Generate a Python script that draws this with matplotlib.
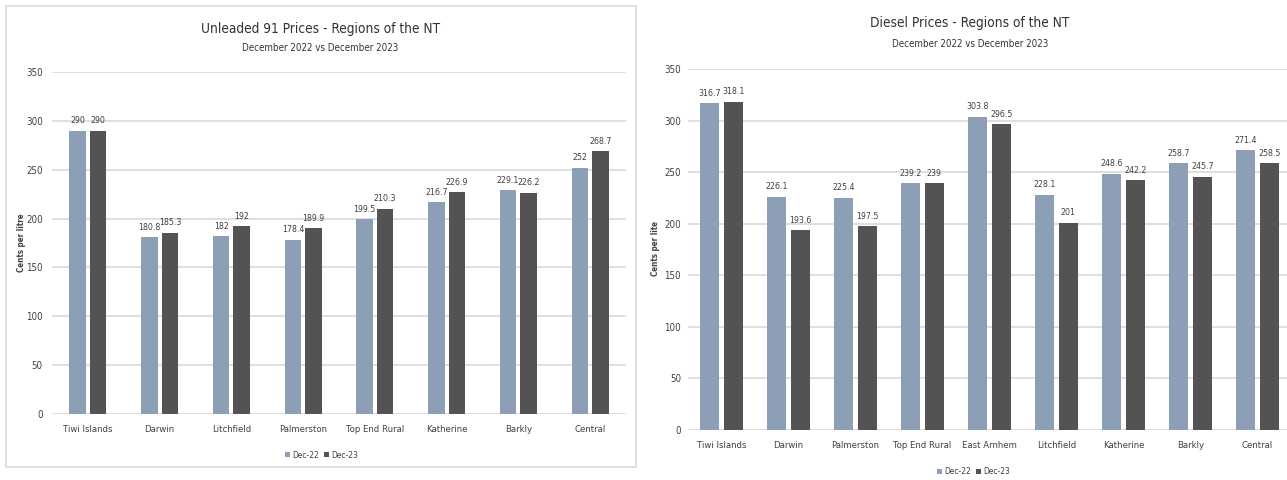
import matplotlib
matplotlib.use('Agg')
import matplotlib.pyplot as plt
import numpy as np
from matplotlib.patches import Rectangle

plt.rcParams['font.family'] = ['DejaVu Sans']
plt.rcParams['font.stretch'] = 'condensed'

# unleaded 91
ulp_regions = ['Tiwi Islands', 'Darwin', 'Litchfield', 'Palmerston',
               'Top End Rural', 'Katherine', 'Barkly', 'Central']
ulp_dec22 = [290, 180.8, 182, 178.4, 199.5, 216.7, 229.1, 252]
ulp_dec23 = [290, 185.3, 192, 189.9, 210.3, 226.9, 226.2, 268.7]

# diesel
dsl_regions = ['Tiwi Islands', 'Darwin', 'Palmerston', 'Top End Rural',
               'East Arnhem', 'Litchfield', 'Katherine', 'Barkly', 'Central']
dsl_dec22 = [316.7, 226.1, 225.4, 239.2, 303.8, 228.1, 248.6, 258.7, 271.4]
dsl_dec23 = [318.1, 193.6, 197.5, 239, 296.5, 201, 242.2, 245.7, 258.5]

series_names = ['Dec-22', 'Dec-23']
yticks = [0, 50, 100, 150, 200, 250, 300, 350]

c22 = '#8c9fb7'
c23 = '#535353'
txt = '#404040'

fig = plt.figure(figsize=(12.87, 4.8), dpi=100)

# light frame round the left chart
fig.patches.append(Rectangle((6 / 1287, 1 - 467 / 480), 630 / 1287, 461 / 480,
                             transform=fig.transFigure, fill=False,
                             edgecolor='#d5dce4', lw=1.2))


def fmt(v):
    return ('%g' % v)


def draw(ax, regions, d22, d23, width, off, ypad):
    x = np.arange(len(regions))
    b1 = ax.bar(x - off, d22, width, color=c22, label=series_names[0], zorder=3)
    b2 = ax.bar(x + off, d23, width, color=c23, label=series_names[1], zorder=3)
    for bars, vals in ((b1, d22), (b2, d23)):
        for r, v in zip(bars, vals):
            ax.annotate(fmt(v), (r.get_x() + r.get_width() / 2, v),
                        xytext=(0, 4), textcoords='offset points',
                        ha='center', va='bottom', fontsize=6.3, color=txt)
    ax.set_xlim(-0.5, len(regions) - 0.5)
    ax.set_ylim(0, 350)
    ax.set_yticks(yticks)
    ax.set_xticks(x)
    ax.set_xticklabels(regions)
    ax.tick_params(length=0, labelsize=7, colors=txt)
    ax.tick_params(axis='x', pad=8, labelsize=6.8)
    ax.tick_params(axis='y', pad=ypad)
    for s in ax.spines.values():
        s.set_visible(False)
    ax.grid(axis='y', color='#dcdcdc', lw=1.3, zorder=0)
    ax.set_axisbelow(True)
    return b1, b2


ax1 = fig.add_axes([52 / 1287, 1 - 414 / 480, 574 / 1287, 342 / 480])
h1 = draw(ax1, ulp_regions, ulp_dec22, ulp_dec23, 0.228, 0.143, 6.5)
ax2 = fig.add_axes([688 / 1287, 1 - 430 / 480, 603 / 1287, 361 / 480])
h2 = draw(ax2, dsl_regions, dsl_dec22, dsl_dec23, 0.29, 0.175, 5)

fig.text(0.2487, 1 - 29 / 480, 'Unleaded 91 Prices - Regions of the NT',
         ha='center', va='center', fontsize=9.8, color='#333333')
fig.text(0.2487, 1 - 48 / 480, 'December 2022 vs December 2023',
         ha='center', va='center', fontsize=7, color='#333333')
fig.text(0.7537, 1 - 23 / 480, 'Diesel Prices - Regions of the NT',
         ha='center', va='center', fontsize=9.8, color='#333333')
fig.text(0.7537, 1 - 44 / 480, 'December 2022 vs December 2023',
         ha='center', va='center', fontsize=7, color='#333333')

fig.text(21 / 1287, 1 - 243 / 480, 'Cents per litre', rotation=90,
         ha='center', va='center', fontsize=5.8, fontweight='bold',
         color=txt)
fig.text(656 / 1287, 1 - 248 / 480, 'Cents per lite', rotation=90,
         ha='center', va='center', fontsize=5.8, fontweight='bold',
         color=txt)

legkw = dict(ncol=2, frameon=False, fontsize=6, handlelength=0.6,
             handleheight=0.6, handletextpad=0.25, columnspacing=0.6,
             labelcolor=txt)
fig.legend(handles=h1, loc='center', bbox_to_anchor=(0.25, 1 - 455 / 480), **legkw)
fig.legend(handles=h2, loc='center', bbox_to_anchor=(0.7565, 1 - 472 / 480), **legkw)

fig.savefig('out.png', dpi=100, facecolor='white')
